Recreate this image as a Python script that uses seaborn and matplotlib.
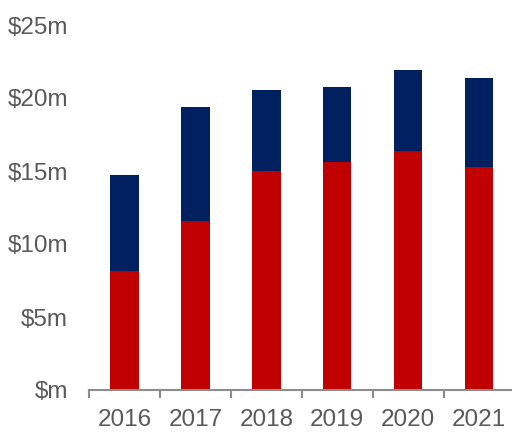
import matplotlib
matplotlib.use("Agg")
import matplotlib.pyplot as plt
import seaborn as sns
import pandas as pd
import numpy as np

years = ["2016", "2017", "2018", "2019", "2020", "2021"]
red_vals = [8.13, 11.55, 15.02, 15.6, 16.35, 15.3]
navy_vals = [6.6, 7.85, 5.53, 5.13, 5.57, 6.1]
y_ticks = [0, 5, 10, 15, 20, 25]
y_labels = ["$m", "$5m", "$10m", "$15m", "$20m", "$25m"]

sns.set_theme(style="white")
plt.rcParams['font.family'] = ['Liberation Sans', 'DejaVu Sans']

df = pd.DataFrame({"year": years, "red": red_vals, "navy": navy_vals})
df["total"] = df["red"] + df["navy"]

fig = plt.figure(figsize=(5.12, 4.32), dpi=100)
ax = fig.add_axes([89/512, 1 - 390/432, 1 - 89/512 + 0.005, (390 - 25)/432])

sns.barplot(data=df, x="year", y="total", color="#002060", width=0.4,
            saturation=1, ax=ax, linewidth=0)
sns.barplot(data=df, x="year", y="red", color="#C00000", width=0.4,
            saturation=1, ax=ax, linewidth=0)

ax.set_ylim(0, 25)
ax.set_xlim(-0.5, 5.5)
ax.set_yticks(y_ticks)
ax.set_yticklabels(y_labels)
ax.set_xlabel("")
ax.set_ylabel("")

for s in ["top", "right", "left"]:
    ax.spines[s].set_visible(False)
ax.spines["bottom"].set_color("#8c8c8c")
ax.spines["bottom"].set_linewidth(1.5)

ax.set_xticks(np.arange(len(years)) - 0.5, minor=True)
ax.tick_params(axis="x", which="major", length=0, pad=14, labelsize=17.5, labelcolor="#595959")
ax.tick_params(axis="x", which="minor", length=6, width=1.5, color="#8c8c8c", direction="out", bottom=True)
ax.tick_params(axis="y", which="both", length=0, pad=15, labelsize=17.5, labelcolor="#595959")

fig.savefig("out.png", dpi=100)
